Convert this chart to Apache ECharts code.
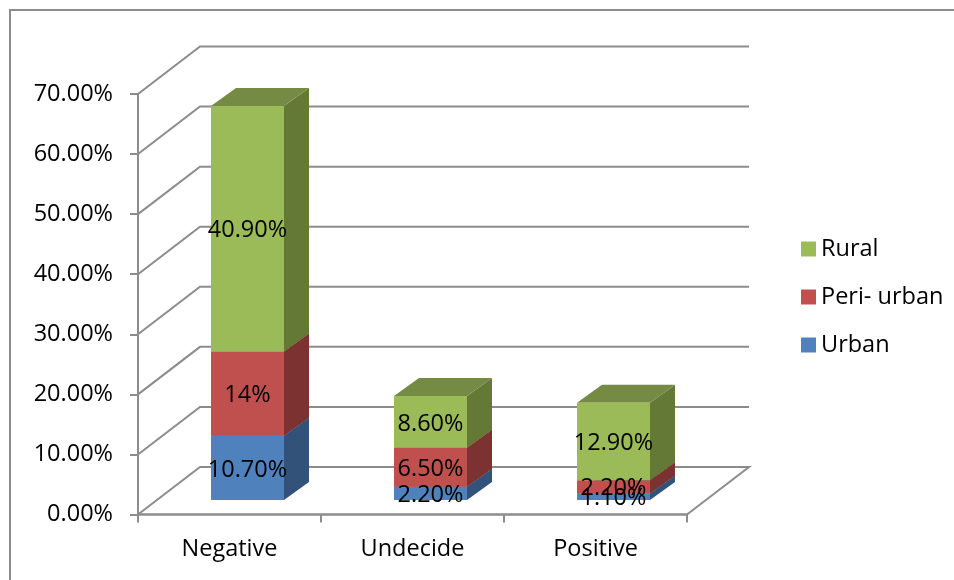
<!DOCTYPE html>
<html>
<head>
<meta charset="utf-8">
<style>html,body{margin:0;padding:0;background:#fff}#chart{width:954px;height:580px}</style>
<script src="https://cdn.jsdelivr.net/npm/echarts@6/dist/echarts.min.js"></script>
</head>
<body>
<div id="chart"></div>
<script>
// Survey results by attitude and residence, in percent
const categories = ['Negative', 'Undecide', 'Positive'];
const urban = [10.7, 2.2, 1.1];
const periUrban = [14, 6.5, 2.2];
const rural = [40.9, 8.6, 12.9];
const urbanLabels = ['10.70%', '2.20%', '1.10%'];
const periUrbanLabels = ['14%', '6.50%', '2.20%'];
const ruralLabels = ['40.90%', '8.60%', '12.90%'];
const yTicks = [0, 10, 20, 30, 40, 50, 60, 70];

// Pseudo-3D projection of the chart box and of the columns standing in it
const WALL_DX = 62, WALL_DY = -47.5;
const BAR_DX = 18, BAR_DY = -14.5;
const BAR_W = 73, SIDE_DX = 25, SIDE_DY = -18;
const FONT_FAMILY = '"Open Sans", sans-serif';
const FONT_SIZE = 23.5;
const AXIS_GREY = '#8c8c8c';

function stackSeries(name, values, labels, bases, colors) {
  return {
    type: 'custom',
    name,
    coordinateSystem: 'cartesian2d',
    itemStyle: { color: colors.front },
    data: values.map((v, i) => [i, v, bases[i], labels[i]]),
    encode: { x: 0, y: 1 },
    renderItem(params, api) {
      const i = api.value(0), base = api.value(2), v = api.value(1);
      const lo = api.coord([i, base]), hi = api.coord([i, base + v]);
      const x0 = lo[0] + BAR_DX - BAR_W / 2, x1 = x0 + BAR_W;
      const y0 = lo[1] + BAR_DY, y1 = hi[1] + BAR_DY;
      const poly = (points, fill) => ({ type: 'polygon', shape: { points }, style: { fill } });
      return {
        type: 'group',
        children: [
          poly([[x1, y0], [x1 + SIDE_DX, y0 + SIDE_DY], [x1 + SIDE_DX, y1 + SIDE_DY], [x1, y1]], colors.side),
          poly([[x0, y1], [x0 + SIDE_DX, y1 + SIDE_DY], [x1 + SIDE_DX, y1 + SIDE_DY], [x1, y1]], colors.top),
          poly([[x0, y0], [x1, y0], [x1, y1], [x0, y1]], colors.front),
          {
            type: 'text',
            z2: 100,
            style: {
              text: labels[i],
              x: (x0 + x1) / 2,
              y: (y0 + y1) / 2 + 2,
              align: 'center',
              verticalAlign: 'middle',
              font: FONT_SIZE + 'px ' + FONT_FAMILY,
              fill: '#000'
            }
          }
        ]
      };
    }
  };
}

const wallSeries = {
  type: 'custom',
  name: 'Walls',
  coordinateSystem: 'cartesian2d',
  silent: true,
  z: 1,
  data: yTicks.map(t => [0, t]),
  encode: { x: 0, y: 1 },
  renderItem(params, api) {
    const v = api.value(1);
    const y = api.coord([0, v])[1];
    const left = params.coordSys.x, right = left + params.coordSys.width;
    const points = [[left, y], [left + WALL_DX, y + WALL_DY], [right + WALL_DX, y + WALL_DY]];
    if (v === 0) points.push([right, y]);
    return {
      type: 'polyline',
      shape: { points },
      style: { stroke: AXIS_GREY, lineWidth: 2, fill: null }
    };
  }
};

const periBases = urban.slice();
const ruralBases = urban.map((u, i) => u + periUrban[i]);
const zeroBases = urban.map(() => 0);

const chart = echarts.init(document.getElementById('chart'), null, { renderer: 'canvas' });
chart.setOption({
  animation: false,
  backgroundColor: '#fff',
  textStyle: { fontFamily: FONT_FAMILY },
  graphic: [{
    type: 'rect',
    silent: true,
    shape: { x: 10, y: 10, width: 1000, height: 640 },
    style: { fill: null, stroke: AXIS_GREY, lineWidth: 2 }
  }],
  grid: { left: 138, top: 94, width: 549, height: 420.5 },
  xAxis: {
    type: 'category',
    data: categories,
    axisLine: { lineStyle: { color: AXIS_GREY, width: 2.5 } },
    axisTick: { show: true, length: 8, lineStyle: { color: AXIS_GREY, width: 2 } },
    axisLabel: { color: '#000', fontSize: FONT_SIZE, margin: 23, fontFamily: FONT_FAMILY },
    splitLine: { show: false }
  },
  yAxis: {
    type: 'value',
    min: 0,
    max: 70,
    interval: 10,
    axisLine: { show: true, lineStyle: { color: AXIS_GREY, width: 2 } },
    axisTick: { show: true, length: 8, lineStyle: { color: AXIS_GREY, width: 2 } },
    axisLabel: {
      color: '#000',
      fontSize: FONT_SIZE,
      margin: 25,
      padding: [2, 0, 0, 0],
      fontFamily: FONT_FAMILY,
      formatter: v => v.toFixed(2) + '%'
    },
    splitLine: { show: false }
  },
  legend: {
    orient: 'vertical',
    left: 796,
    top: 232,
    itemWidth: 15,
    itemHeight: 15,
    itemGap: 24,
    icon: 'rect',
    data: ['Rural', 'Peri- urban', 'Urban'],
    selectedMode: false,
    textStyle: { color: '#000', fontSize: FONT_SIZE, fontFamily: FONT_FAMILY }
  },
  series: [
    wallSeries,
    stackSeries('Urban', urban, urbanLabels, zeroBases, { front: '#4f81bd', side: '#32527a', top: '#3d6391' }),
    stackSeries('Peri- urban', periUrban, periUrbanLabels, periBases, { front: '#c0504d', side: '#7b3230', top: '#933d3b' }),
    stackSeries('Rural', rural, ruralLabels, ruralBases, { front: '#9bbb59', side: '#657936', top: '#758b43' })
  ]
});
</script>
</body>
</html>
